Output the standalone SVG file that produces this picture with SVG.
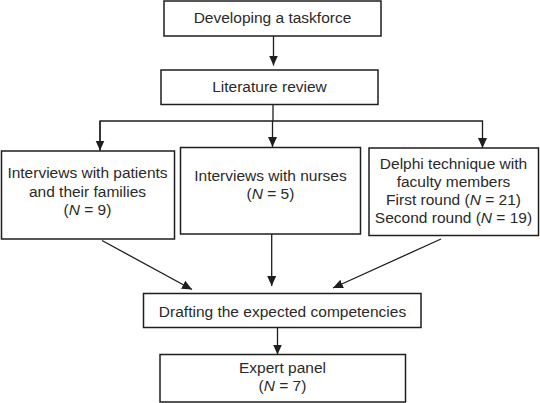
<svg xmlns="http://www.w3.org/2000/svg" width="540" height="403" viewBox="0 0 540 403">
<style>
.box{fill:#fff;stroke:#1e1e1e;stroke-width:1.5}
.ln{fill:none;stroke:#1e1e1e;stroke-width:1.3}
text{font-family:"Liberation Sans",Arial,sans-serif;font-size:15.5px;fill:#2a2a2a;text-anchor:middle}
.i{font-style:italic}
</style>
<defs>
<marker id="ah" markerUnits="userSpaceOnUse" markerWidth="10" markerHeight="10" viewBox="0 0 10 10" refX="10" refY="5" orient="auto">
<path d="M0,0.5 L10,5 L0,9.5 Z" fill="#1e1e1e"/>
</marker>
</defs>
<rect width="540" height="403" fill="#fff"/>
<g id="connectors">
<line class="ln" x1="273.5" y1="36" x2="273.5" y2="65.5" marker-end="url(#ah)"/>
<polyline class="ln" points="273,104.5 273,121"/>
<polyline class="ln" points="100,150.5 100,121 482.5,121 482.5,148" marker-end="url(#ah)"/>
<line class="ln" x1="100" y1="121" x2="100" y2="150.5" marker-end="url(#ah)"/>
<line class="ln" x1="272.5" y1="121" x2="272.5" y2="147" marker-end="url(#ah)"/>
<line class="ln" x1="102" y1="240.5" x2="192" y2="289.5" marker-end="url(#ah)"/>
<line class="ln" x1="271.7" y1="234" x2="271.7" y2="286" marker-end="url(#ah)"/>
<line class="ln" x1="441" y1="239" x2="333" y2="288" marker-end="url(#ah)"/>
<line class="ln" x1="277.5" y1="328" x2="277.5" y2="354.5" marker-end="url(#ah)"/>
</g>
<g id="taskforce">
<rect class="box" x="164" y="1" width="217" height="35"/>
<text x="272.5" y="23">Developing a taskforce</text>
</g>
<g id="literature">
<rect class="box" x="161" y="70" width="217" height="34.5"/>
<text x="269.5" y="92">Literature review</text>
</g>
<g id="patients">
<rect class="box" x="1.5" y="151" width="173" height="88"/>
<text x="87.5" y="178">Interviews with patients</text>
<text x="87.5" y="196.5">and their families</text>
<text x="87.5" y="215">(<tspan class="i">N</tspan> = 9)</text>
</g>
<g id="nurses">
<rect class="box" x="180.5" y="147.5" width="180" height="86.5"/>
<text x="270.5" y="180.5">Interviews with nurses</text>
<text x="270.5" y="199">(<tspan class="i">N</tspan> = 5)</text>
</g>
<g id="delphi">
<rect class="box" x="369" y="148" width="169.5" height="87.5"/>
<text x="453.5" y="168.5">Delphi technique with</text>
<text x="453.5" y="186.5">faculty members</text>
<text x="453.5" y="204.5">First round (<tspan class="i">N</tspan> = 21)</text>
<text x="453.5" y="222.5">Second round (<tspan class="i">N</tspan> = 19)</text>
</g>
<g id="drafting">
<rect class="box" x="143.5" y="293.5" width="277.5" height="34"/>
<text x="282.5" y="317">Drafting the expected competencies</text>
</g>
<g id="expert">
<rect class="box" x="160" y="354.5" width="245.5" height="47.5"/>
<text x="282.5" y="373">Expert panel</text>
<text x="282.5" y="391">(<tspan class="i">N</tspan> = 7)</text>
</g>
</svg>
